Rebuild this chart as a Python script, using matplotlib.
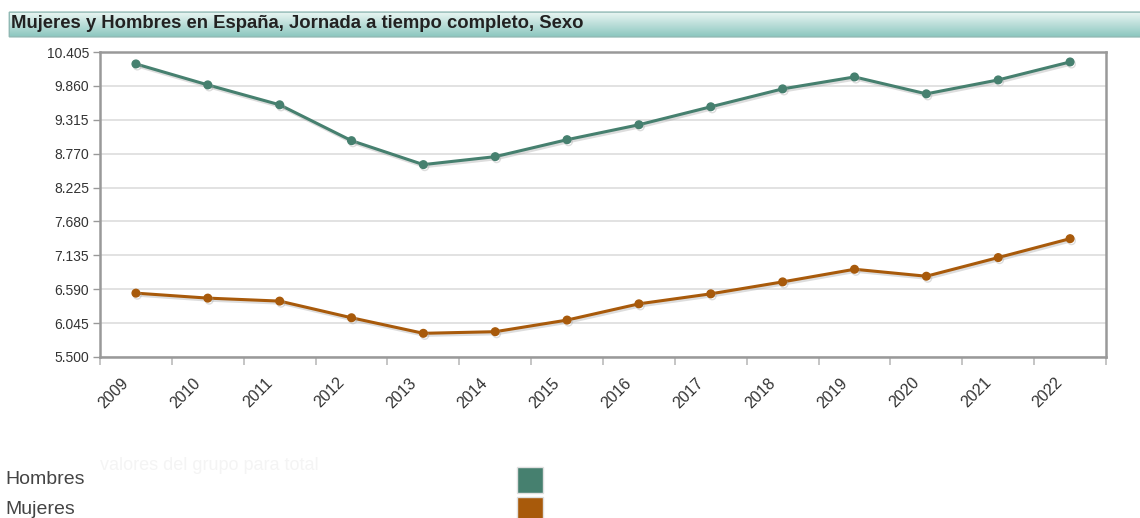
import matplotlib

matplotlib.use("Agg")

import matplotlib.pyplot as plt
import matplotlib.patheffects as pe
import numpy as np
from matplotlib.patches import FancyBboxPatch, Rectangle
from matplotlib.transforms import ScaledTranslation
from matplotlib.ticker import FuncFormatter

plt.rcParams["font.family"] = ["Liberation Sans", "DejaVu Sans"]

TITLE = "Mujeres y Hombres en España, Jornada a tiempo completo, Sexo"
YEARS = ["2009", "2010", "2011", "2012", "2013", "2014", "2015",
         "2016", "2017", "2018", "2019", "2020", "2021", "2022"]
# miles de personas
HOMBRES = [10213, 9876, 9556, 8979, 8594, 8722, 8995,
           9235, 9524, 9812, 10004, 9732, 9956, 10245]
MUJERES = [6527, 6447, 6399, 6131, 5881, 5907, 6094,
           6355, 6516, 6708, 6911, 6799, 7099, 7403]
Y_TICKS = [5500, 6045, 6590, 7135, 7680, 8225, 8770, 9315, 9860, 10405]
SERIES = ["Hombres", "Mujeres"]
COLORS = {"Hombres": "#46806f", "Mujeres": "#a85a0b"}

W, H = 1140, 518
fig = plt.figure(figsize=(W / 100, H / 100), dpi=100, facecolor="white")


def px(x0, y0, w, h):
    return [x0 / W, 1 - (y0 + h) / H, w / W, h / H]


# title bar with gradient
tax = fig.add_axes(px(7, 11, 1140, 27))
tax.set_xlim(0, 1)
tax.set_ylim(0, 1)
tax.set_axis_off()
grad = np.linspace(0, 1, 64).reshape(-1, 1)
top = np.array([0.93, 0.97, 0.96])
bot = np.array([0.53, 0.77, 0.74])
img = top + (bot - top) * grad[:, :, None]
bar = FancyBboxPatch((0.002, 0.04), 1.2, 0.92, boxstyle="round,pad=0,rounding_size=0.12",
                     mutation_aspect=1 / 40, fc="none", ec="#8fb8b3", lw=1.0,
                     transform=tax.transAxes)
tax.add_patch(bar)
im = tax.imshow(img, extent=[0, 1, 0, 1], aspect="auto", origin="upper")
im.set_clip_path(bar)
fig.text(11 / W, 1 - 24 / H, TITLE, fontsize=13.3, fontweight="bold",
         color="#222222", ha="left", va="center")

# main chart
ax = fig.add_axes(px(100, 52, 1006, 305))
x = np.arange(len(YEARS))
for name, vals in zip(SERIES, [HOMBRES, MUJERES]):
    ax.plot(x, vals, color=COLORS[name], lw=2.2, marker="o", ms=5.5,
            solid_capstyle="round",
            path_effects=[pe.SimpleLineShadow(offset=(1, -1.5), shadow_color="#aaaaaa", alpha=0.4),
                          pe.Normal()])

ax.set_xlim(-0.5, len(YEARS) - 0.5)
ax.set_ylim(Y_TICKS[0], Y_TICKS[-1])
ax.set_yticks(Y_TICKS)
ax.yaxis.set_major_formatter(FuncFormatter(lambda v, p: f"{v / 1000:.3f}"))
ax.grid(axis="y", color="#dddddd", lw=1.2)
ax.set_axisbelow(True)

ax.set_xticks(x)
ax.set_xticklabels(YEARS, rotation=45, ha="right", rotation_mode="anchor")
ax.set_xticks(np.arange(len(YEARS) + 1) - 0.5, minor=True)
ax.tick_params(axis="x", which="major", length=0, pad=13, labelsize=11.5, labelcolor="#333333")
ax.tick_params(axis="x", which="minor", length=6, color="#bbbbbb", width=1.2)
ax.tick_params(axis="y", length=5, color="#999999", width=1, labelsize=10,
               labelcolor="#333333", pad=3)
for lab in ax.get_xticklabels():
    lab.set_transform(lab.get_transform() + ScaledTranslation(-0.15, 0, fig.dpi_scale_trans))

for s in ax.spines.values():
    s.set_color("#999999")
    s.set_linewidth(1.8)
    s.set_path_effects([pe.SimplePatchShadow(offset=(1.5, -1.5), shadow_rgbFace="#bbbbbb", alpha=0.6),
                        pe.Normal()])

# legend
fig.text(100 / W, 1 - 465 / H, "valores del grupo para total", fontsize=13,
         color="#f4f4f4", ha="left", va="center")
for i, name in enumerate(SERIES):
    yc = 480 + i * 30
    fig.text(5 / W, 1 - yc / H, name, fontsize=14, color="#444444", ha="left", va="center")
    fig.patches.append(Rectangle((517 / W, 1 - (yc + 13) / H), 26 / W, 26 / H,
                                 transform=fig.transFigure, figure=fig,
                                 fc=COLORS[name], ec="#e0e0e0", lw=1))

fig.savefig("out.png", dpi=100, facecolor="white")
